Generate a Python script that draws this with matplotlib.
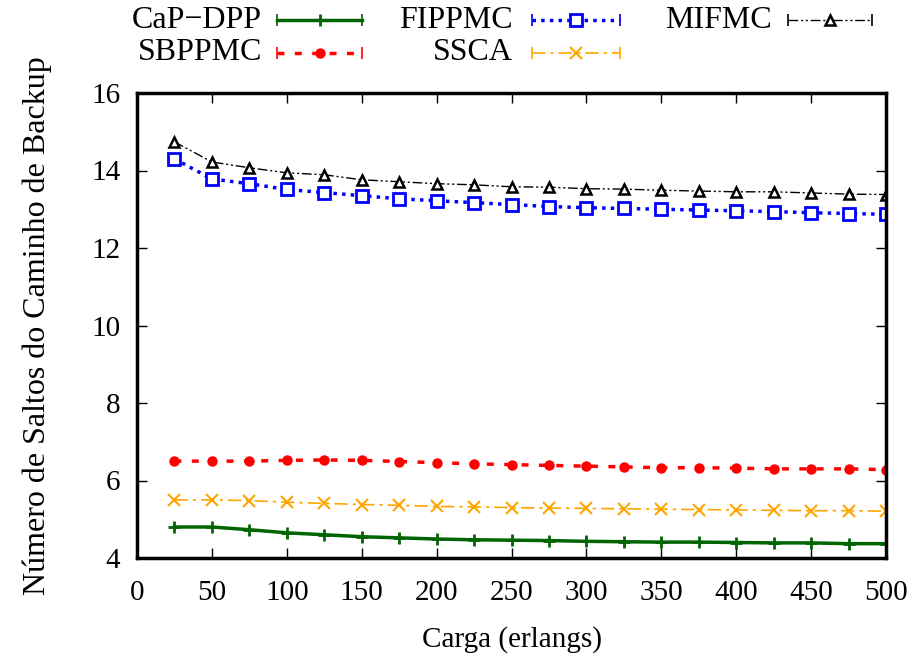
import matplotlib
matplotlib.use("Agg")
import matplotlib.pyplot as plt
from matplotlib.lines import Line2D

plt.rcParams['font.family'] = ['Liberation Serif', 'DejaVu Serif']

# carga em erlangs
carga = [25, 50, 75, 100, 125, 150, 175, 200, 225, 250,
         275, 300, 325, 350, 375, 400, 425, 450, 475, 500]

cap_dpp = [4.80, 4.80, 4.73, 4.65, 4.60, 4.55, 4.52, 4.49, 4.47, 4.46,
           4.45, 4.43, 4.42, 4.41, 4.41, 4.40, 4.39, 4.39, 4.37, 4.37]
sbppmc = [6.50, 6.50, 6.50, 6.52, 6.53, 6.52, 6.49, 6.46, 6.43, 6.41,
          6.39, 6.37, 6.35, 6.33, 6.33, 6.32, 6.30, 6.30, 6.30, 6.28]
fippmc = [14.30, 13.78, 13.66, 13.51, 13.43, 13.35, 13.27, 13.22, 13.17, 13.12,
          13.07, 13.04, 13.02, 13.00, 12.98, 12.96, 12.94, 12.91, 12.89, 12.87]
ssca = [5.50, 5.50, 5.48, 5.44, 5.41, 5.38, 5.36, 5.33, 5.32, 5.30,
        5.29, 5.28, 5.27, 5.26, 5.25, 5.24, 5.23, 5.22, 5.22, 5.21]
mifmc = [14.74, 14.22, 14.07, 13.94, 13.89, 13.76, 13.71, 13.66, 13.63, 13.58,
         13.57, 13.53, 13.52, 13.49, 13.47, 13.45, 13.45, 13.42, 13.39, 13.38]

W, H = 914, 655
fig = plt.figure(figsize=(W / 100, H / 100), dpi=100)
ax = fig.add_axes([137 / W, 1 - 558 / H, 749 / W, 465 / H])

# estilo de cada serie (estilo gnuplot)
estilos = {
    'CaP\u2212DPP': dict(color='#006400', lw=2.5, ls='-', marker='+', ms=9, mew=2),
    'SBPPMC': dict(color='#ff0000', lw=2.5, ls=(0, (2, 3)), marker='o', ms=6.5),
    'FIPPMC': dict(color='#0000ff', lw=2.5, ls=(0, (1, 1.5)), marker='s', ms=8,
                   mfc='white', mew=2),
    'SSCA': dict(color='#ffa500', lw=1.2, ls=(0, (8, 3, 2, 3)), marker='x', ms=8, mew=1.5),
    'MIFMC': dict(color='black', lw=1.0, ls=(0, (7, 2, 1.5, 2, 1.5, 2)), marker='^',
                  ms=7, mfc='white', mew=1.8),
}
series = [('CaP\u2212DPP', cap_dpp), ('SBPPMC', sbppmc), ('FIPPMC', fippmc),
          ('SSCA', ssca), ('MIFMC', mifmc)]

for nome, ys in series:
    ax.plot(carga, ys, **estilos[nome])

ax.set_xlim(0, 500)
ax.set_ylim(4, 16)
ax.set_xticks(range(0, 501, 50))
ax.set_yticks(range(4, 17, 2))
ax.tick_params(direction='in', top=True, right=True, length=7, width=1,
               labelsize=21)
ax.tick_params(axis='x', pad=16)
ax.tick_params(axis='y', pad=12)
for s in ax.spines.values():
    s.set_linewidth(2.5)

ax.set_xlabel('Carga (erlangs)', fontsize=21, labelpad=14)
ax.set_ylabel('Número de Saltos do Caminho de Backup', fontsize=23, labelpad=28)

# legenda manual no estilo gnuplot: texto alinhado a direita, amostra com tracos nas pontas
posicoes = {
    'CaP\u2212DPP': (262, 277, 362, 20),
    'SBPPMC': (262, 277, 362, 53),
    'FIPPMC': (513, 532, 620, 20),
    'SSCA': (513, 532, 620, 53),
    'MIFMC': (772, 788, 872, 20),
}
for nome, (xt, x0, x1, yp) in posicoes.items():
    st = estilos[nome]
    y = 1 - yp / H
    fig.text(xt / W, y, nome, ha='right', va='center', fontsize=23)
    fig.add_artist(Line2D([x0 / W, x1 / W], [y, y], transform=fig.transFigure,
                          color=st['color'], lw=st['lw'], ls=st['ls']))
    fig.add_artist(Line2D([x0 / W, x1 / W], [y, y], transform=fig.transFigure,
                          color=st['color'], ls='none', marker='|', ms=9, mew=1.2))
    mk = {k: v for k, v in st.items() if k in ('marker', 'ms', 'mfc', 'mew', 'color')}
    fig.add_artist(Line2D([(x0 + x1) / 2 / W], [y], transform=fig.transFigure,
                          ls='none', **mk))

fig.savefig('out.png', dpi=100)
